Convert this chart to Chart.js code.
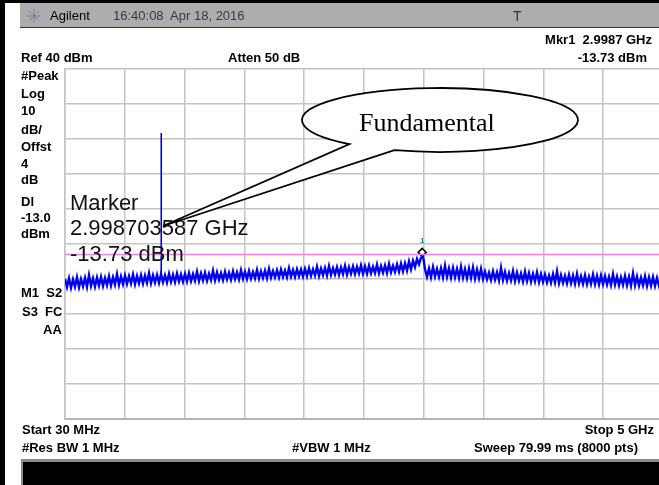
<!DOCTYPE html>
<html>
<head>
<meta charset="utf-8">
<script src="https://cdn.jsdelivr.net/npm/chart.js@4.4.0/dist/chart.umd.js"></script>
<style>
html, body { margin: 0; padding: 0; background: #fff; overflow: hidden; width: 659px; height: 485px; }
#wrap { position: relative; width: 659px; height: 485px; overflow: hidden; font-family: "Liberation Sans", Arial, sans-serif; }
#c { position: absolute; left: 0; top: 0; }
.t { position: absolute; font-size: 13px; font-weight: bold; line-height: 14px; white-space: pre; color: #000; }
.hdr { position: absolute; font-size: 13px; line-height: 14px; white-space: pre; }
</style>
</head>
<body>
<div id="wrap">
  <!-- frame pieces -->
  <div style="position:absolute;left:0;top:0;width:5px;height:485px;background:#000"></div>
  <div style="position:absolute;left:0;top:0;width:659px;height:3px;background:#000"></div>
  <div style="position:absolute;left:20px;top:3px;width:639px;height:24px;background:#adadad;border-bottom:1px solid #333"></div>
  <div style="position:absolute;left:21px;top:459px;width:638px;height:30px;background:#000;border-top:3px solid #8a8a8a;border-left:2px solid #8a8a8a"></div>

  <canvas id="c" width="680" height="485"></canvas>

  <!-- header -->
  <svg style="position:absolute;left:27px;top:9px" width="14" height="14" viewBox="0 0 14 14">
    <g stroke="#3a4ef0" stroke-width="1" stroke-dasharray="1 1">
      <line x1="7" y1="0" x2="7" y2="14"/><line x1="0" y1="7" x2="14" y2="7"/>
      <line x1="2" y1="2" x2="12" y2="12"/><line x1="12" y1="2" x2="2" y2="12"/>
    </g>
  </svg>
  <div class="hdr" style="left:50px;top:9px;color:#000">Agilent</div>
  <div class="hdr" style="left:113px;top:9px;color:#3b3450">16:40:08  Apr 18, 2016</div>
  <div class="hdr" style="left:513px;top:9px;color:#402850;font-size:14px">T</div>

  <div class="t" style="right:7px;top:33px">Mkr1  2.9987 GHz</div>
  <div class="t" style="right:12px;top:51px">-13.73 dBm</div>
  <div class="t" style="left:21px;top:51px">Ref 40 dBm</div>
  <div class="t" style="left:228px;top:51px">Atten 50 dB</div>

  <div class="t" style="left:21px;top:69px">#Peak</div>
  <div class="t" style="left:21px;top:87px">Log</div>
  <div class="t" style="left:21px;top:104px">10</div>
  <div class="t" style="left:21px;top:123px">dB/</div>
  <div class="t" style="left:21px;top:140px">Offst</div>
  <div class="t" style="left:21px;top:157px">4</div>
  <div class="t" style="left:21px;top:173px">dB</div>
  <div class="t" style="left:21px;top:195px">Dl</div>
  <div class="t" style="left:21px;top:211px">-13.0</div>
  <div class="t" style="left:21px;top:227px">dBm</div>
  <div class="t" style="left:21px;top:286px">M1  S2</div>
  <div class="t" style="left:22px;top:305px">S3  FC</div>
  <div class="t" style="left:43px;top:323px">AA</div>

  <div class="t" style="left:22px;top:423px">Start 30 MHz</div>
  <div class="t" style="right:5px;top:423px">Stop 5 GHz</div>
  <div class="t" style="left:22px;top:441px">#Res BW 1 MHz</div>
  <div class="t" style="left:292px;top:441px">#VBW 1 MHz</div>
  <div class="t" style="right:21px;top:441px">Sweep 79.99 ms (8000 pts)</div>
</div>

<script>
// sweep settings
const startMHz = 30;
const stopMHz = 5000;
const refLevel = 40;
const bottomLevel = -60;

// vertical grid positions (10 divisions across the span)
const gridFreqs = [30, 527, 1024, 1521, 2018, 2515, 3012, 3509, 4006, 4503, 5000];

// trace levels in dBm (noise floor band, left to right)
const traceLevels = [
    -20.0,-22.3,-19.8,-22.5,-20.1,-22.2,-19.5,-22.4,-20.0,-22.1,-19.7,-22.3,-18.9,-22.0,-19.8,-22.2,-19.6,-21.9,-19.4,-22.0,-19.7,-21.8,-19.2,-21.9,-19.5,-21.6,-18.6,-21.7,-19.3,-21.5,
    -19.0,-21.4,-19.2,-21.3,-18.7,-21.5,-19.1,-21.2,-18.9,-21.3,-19.0,-21.1,-18.3,-21.2,-18.9,-21.0,-18.8,-21.1,-18.6,-20.9,-18.9,-21.0,-18.5,-20.8,-18.8,-20.9,-18.4,-20.7,-18.7,-20.8,
    -18.5,-20.7,-18.3,-20.6,-18.6,-20.5,-17.9,-20.6,-18.4,-20.4,-18.2,-20.5,-18.5,-20.3,-17.6,-20.4,-18.1,-20.2,-18.3,-20.3,-17.9,-20.1,-18.2,-20.2,-17.8,-20.0,-18.1,-20.1,-17.5,-19.9,
    -17.9,-20.0,-17.7,-19.9,-18.0,-19.8,-17.4,-19.9,-17.8,-19.7,-17.6,-19.8,-17.1,-19.6,-17.7,-19.5,-17.5,-19.6,-17.3,-19.4,-17.6,-19.5,-16.9,-19.3,-17.4,-19.4,-17.2,-19.2,-17.3,-19.3,
    -17.1,-19.2,-16.9,-19.1,-17.2,-19.0,-16.5,-19.1,-17.0,-18.9,-16.8,-19.0,-16.3,-18.8,-16.9,-18.7,-16.6,-18.8,-16.7,-18.6,-16.2,-18.7,-16.6,-18.5,-16.4,-18.6,-16.5,-18.4,-16.1,-18.5,
    -16.4,-18.5,-16.2,-18.4,-16.5,-18.3,-15.9,-18.4,-16.3,-18.2,-16.1,-18.3,-15.7,-18.1,-16.2,-18.0,-15.8,-17.9,-15.6,-17.8,-15.5,-17.6,-15.0,-17.2,-14.8,-16.6,-14.3,-15.8,-13.9,-13.4,
    -17.2,-19.4,-17.0,-19.5,-16.6,-19.3,-17.1,-19.4,-16.9,-19.5,-16.2,-19.4,-17.0,-19.6,-16.8,-19.5,-17.1,-19.7,-16.5,-19.6,-17.2,-19.8,-17.0,-19.7,-16.7,-19.9,-17.3,-19.8,-17.1,-20.0,
    -17.9,-20.1,-18.2,-20.3,-17.8,-20.2,-18.1,-20.4,-16.8,-20.3,-18.0,-20.5,-18.3,-20.4,-17.7,-20.6,-18.2,-20.5,-18.4,-20.7,-17.9,-20.6,-18.3,-20.8,-18.5,-20.7,-18.1,-20.9,-18.6,-20.8,
    -18.7,-21.0,-19.0,-21.1,-18.6,-21.0,-17.8,-21.2,-18.9,-21.1,-19.1,-21.3,-18.8,-21.2,-19.0,-21.4,-18.5,-21.3,-19.2,-21.4,-18.9,-21.5,-19.3,-21.4,-18.7,-21.5,-19.1,-21.6,-19.0,-21.5,
    -19.2,-21.6,-19.4,-21.7,-18.6,-21.6,-19.3,-21.8,-19.5,-21.7,-19.1,-21.8,-19.4,-21.9,-18.4,-21.8,-19.3,-21.9,-19.6,-21.8,-19.2,-22.0,-19.5,-21.9,-19.4,-22.0,-19.7,-21.9,-19.3,-22.0
];

// spur near 830 MHz
const spurFreq = [830, 830];
const spurLevel = [-20.0, 21.7];

// display line
const dlLevel = -13.0;

// marker 1
const mkrFreq = 2998.7;
const mkrShown = -12.4;
const mkrText = ['Marker', '2.998703587 GHz', '-13.73 dBm'];

const traceStep = (stopMHz - startMHz) / (traceLevels.length - 1);
const tracePts = traceLevels.map((v, i) => ({ x: startMHz + i * traceStep, y: v }));

const overlay = {
    id: 'overlay',
    afterDatasetsDraw(chart) {
        const ctx = chart.ctx;
        const xs = chart.scales.x, ys = chart.scales.y;
        ctx.save();

        // marker number above the diamond
        ctx.fillStyle = '#2a8a8a';
        ctx.font = 'bold 8px "Liberation Sans", Arial, sans-serif';
        ctx.textAlign = 'center';
        ctx.textBaseline = 'middle';
        ctx.fillText('1', xs.getPixelForValue(mkrFreq), ys.getPixelForValue(mkrShown) - 12);

        // marker readout text
        ctx.fillStyle = '#111';
        ctx.font = '22px "Liberation Sans", Arial, sans-serif';
        ctx.textAlign = 'left';
        ctx.fillText(mkrText[0], 70, 204);
        ctx.fillText(mkrText[1], 70, 229);
        ctx.fillText(mkrText[2], 70, 255);

        // callout bubble
        const cx = 440, cy = 120, rx = 138, ry = 32;
        const a0 = 131 * Math.PI / 180, a1 = (109.3 + 360) * Math.PI / 180;
        ctx.beginPath();
        ctx.ellipse(cx, cy, rx, ry, 0, a0, a1, false);
        ctx.lineTo(163, 226);
        ctx.closePath();
        ctx.fillStyle = '#fff';
        ctx.fill();
        ctx.lineWidth = 1.8;
        ctx.strokeStyle = '#000';
        ctx.stroke();

        ctx.fillStyle = '#000';
        ctx.font = '26px "Liberation Serif", "Times New Roman", serif';
        ctx.textBaseline = 'alphabetic';
        ctx.fillText('Fundamental', 359, 131);
        ctx.restore();
    }
};

new Chart(document.getElementById('c'), {
    type: 'line',
    data: {
        datasets: [
            {
                data: [{ x: startMHz, y: dlLevel }, { x: stopMHz, y: dlLevel }],
                borderColor: '#f080f0', borderWidth: 1.6, pointRadius: 0
            },
            {
                data: tracePts,
                borderColor: '#0000f0', borderWidth: 2.4, pointRadius: 0, tension: 0,
                borderJoinStyle: 'miter'
            },
            {
                data: spurFreq.map((f, i) => ({ x: f, y: spurLevel[i] })),
                borderColor: '#0000f0', borderWidth: 1.6, pointRadius: 0
            },
            {
                data: [{ x: mkrFreq, y: mkrShown }],
                showLine: false, pointStyle: 'rectRot', pointRadius: 4,
                pointBackgroundColor: '#fff', pointBorderColor: '#000', pointBorderWidth: 1.5
            }
        ]
    },
    options: {
        responsive: false,
        animation: false,
        layout: { padding: { left: 65, top: 69, right: 17, bottom: 66 } },
        plugins: { legend: { display: false }, tooltip: { enabled: false } },
        scales: {
            x: {
                type: 'linear', min: startMHz, max: stopMHz,
                afterBuildTicks: (s) => { s.ticks = gridFreqs.map(v => ({ value: v })); },
                ticks: { display: false },
                grid: { color: '#c4c4c4', lineWidth: 1.5, drawTicks: false },
                border: { color: '#b4b4b4', width: 2 }
            },
            y: {
                min: bottomLevel, max: refLevel,
                ticks: { display: false, stepSize: 10 },
                grid: { color: '#c4c4c4', lineWidth: 1.5, drawTicks: false },
                border: { color: '#c4c4c4', width: 1.5 }
            }
        }
    },
    plugins: [overlay]
});
</script>
</body>
</html>
